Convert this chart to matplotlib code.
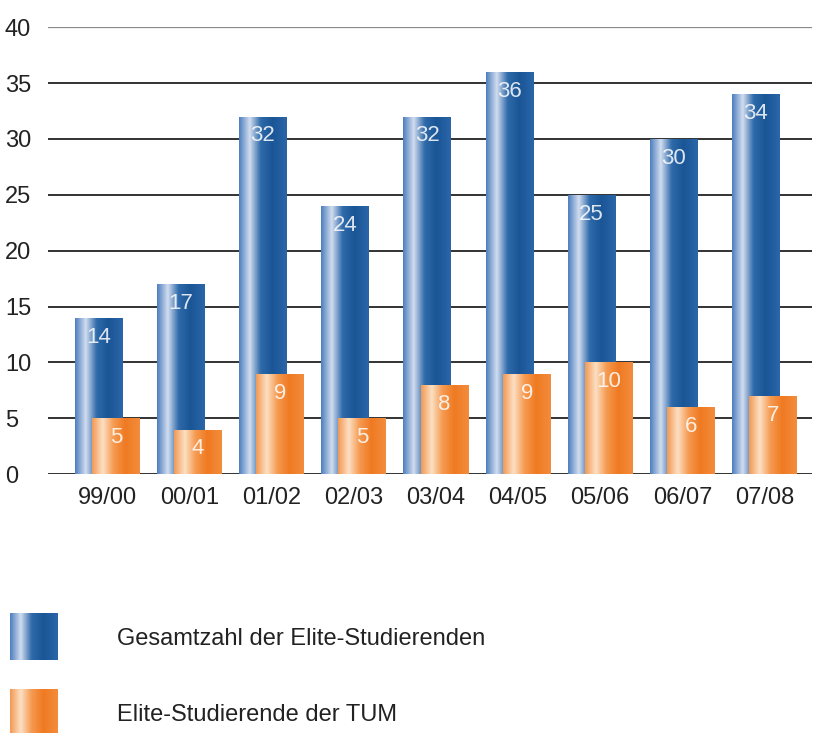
import matplotlib.pyplot as plt
import numpy as np
from matplotlib.colors import LinearSegmentedColormap

plt.rcParams['font.family'] = ['Liberation Sans', 'DejaVu Sans']

semester = ['99/00', '00/01', '01/02', '02/03', '03/04', '04/05', '05/06', '06/07', '07/08']
gesamt = [14, 17, 32, 24, 32, 36, 25, 30, 34]
tum = [5, 4, 9, 5, 8, 9, 10, 6, 7]
legende = ['Gesamtzahl der Elite-Studierenden', 'Elite-Studierende der TUM']

blau = LinearSegmentedColormap.from_list('blau', [
    (0.0, '#4f7fbf'), (0.22, '#d3def0'), (0.45, '#2f6aaa'),
    (0.7, '#1a5596'), (1.0, '#2a66a8')])
orange = LinearSegmentedColormap.from_list('orange', [
    (0.0, '#f29a55'), (0.22, '#fde0c4'), (0.45, '#f59a50'),
    (0.7, '#ef7a22'), (1.0, '#f38c3c')])
verlauf = np.linspace(0, 1, 64).reshape(1, -1)

fig = plt.figure(figsize=(8.13, 7.33), dpi=100)
ax = fig.add_axes([0.059, 0.353, 0.94, 0.61])

x = np.arange(len(semester))
breite = 0.58
versatz = 0.105


def balken(pos, werte, cmap, z):
    rects = ax.bar(pos, werte, width=breite, facecolor='none', edgecolor='none', zorder=z)
    for r in rects:
        x0, w, h = r.get_x(), r.get_width(), r.get_height()
        im = ax.imshow(verlauf, cmap=cmap, extent=[x0, x0 + w, 0, h], aspect='auto',
                       interpolation='bicubic', zorder=z)
        im.set_clip_path(r)
    return rects


balken(x - versatz, gesamt, blau, 3)
balken(x + versatz, tum, orange, 4)

for i in range(len(semester)):
    ax.text(x[i] - versatz, gesamt[i] - 0.8, str(gesamt[i]), color='white', alpha=0.85,
            ha='center', va='top', fontsize=16, zorder=5)
    ax.text(x[i] + versatz, tum[i] - 0.8, str(tum[i]), color='white', alpha=0.85,
            ha='center', va='top', fontsize=16, zorder=5)

for y in range(0, 41, 5):
    ax.axhline(y, color='#888888' if y == 40 else '#222222', lw=1.6 if y == 40 else 1.3, zorder=1)

ax.set_xlim(-0.72, 8.58)
ax.set_ylim(0, 40)
ax.set_yticks(range(0, 41, 5))
ax.set_xticks(x)
ax.set_xticklabels(semester, fontsize=17, color='#222222')
ax.tick_params(axis='both', length=0)
ax.tick_params(axis='x', pad=9)
ax.tick_params(axis='y', pad=31, labelsize=17, labelcolor='#222222')
for lab in ax.get_yticklabels():
    lab.set_horizontalalignment('left')
for s in ax.spines.values():
    s.set_visible(False)

# Legende als eigene Achse mit Farbverlauf-Kästchen
lax = fig.add_axes([0, 0, 1, 0.22])
for j, (text, cmap) in enumerate(zip(legende, [blau, orange])):
    y0 = 42 + j * 76
    lax.imshow(verlauf, cmap=cmap, extent=[10, 57, y0 + 46, y0], aspect='auto',
               interpolation='bicubic')
    lax.text(117, y0 + 25, text, fontsize=17, color='#222222', va='center')
lax.set_xlim(0, 813)
lax.set_ylim(161, 0)
lax.axis('off')

fig.savefig('out.png', dpi=100)
